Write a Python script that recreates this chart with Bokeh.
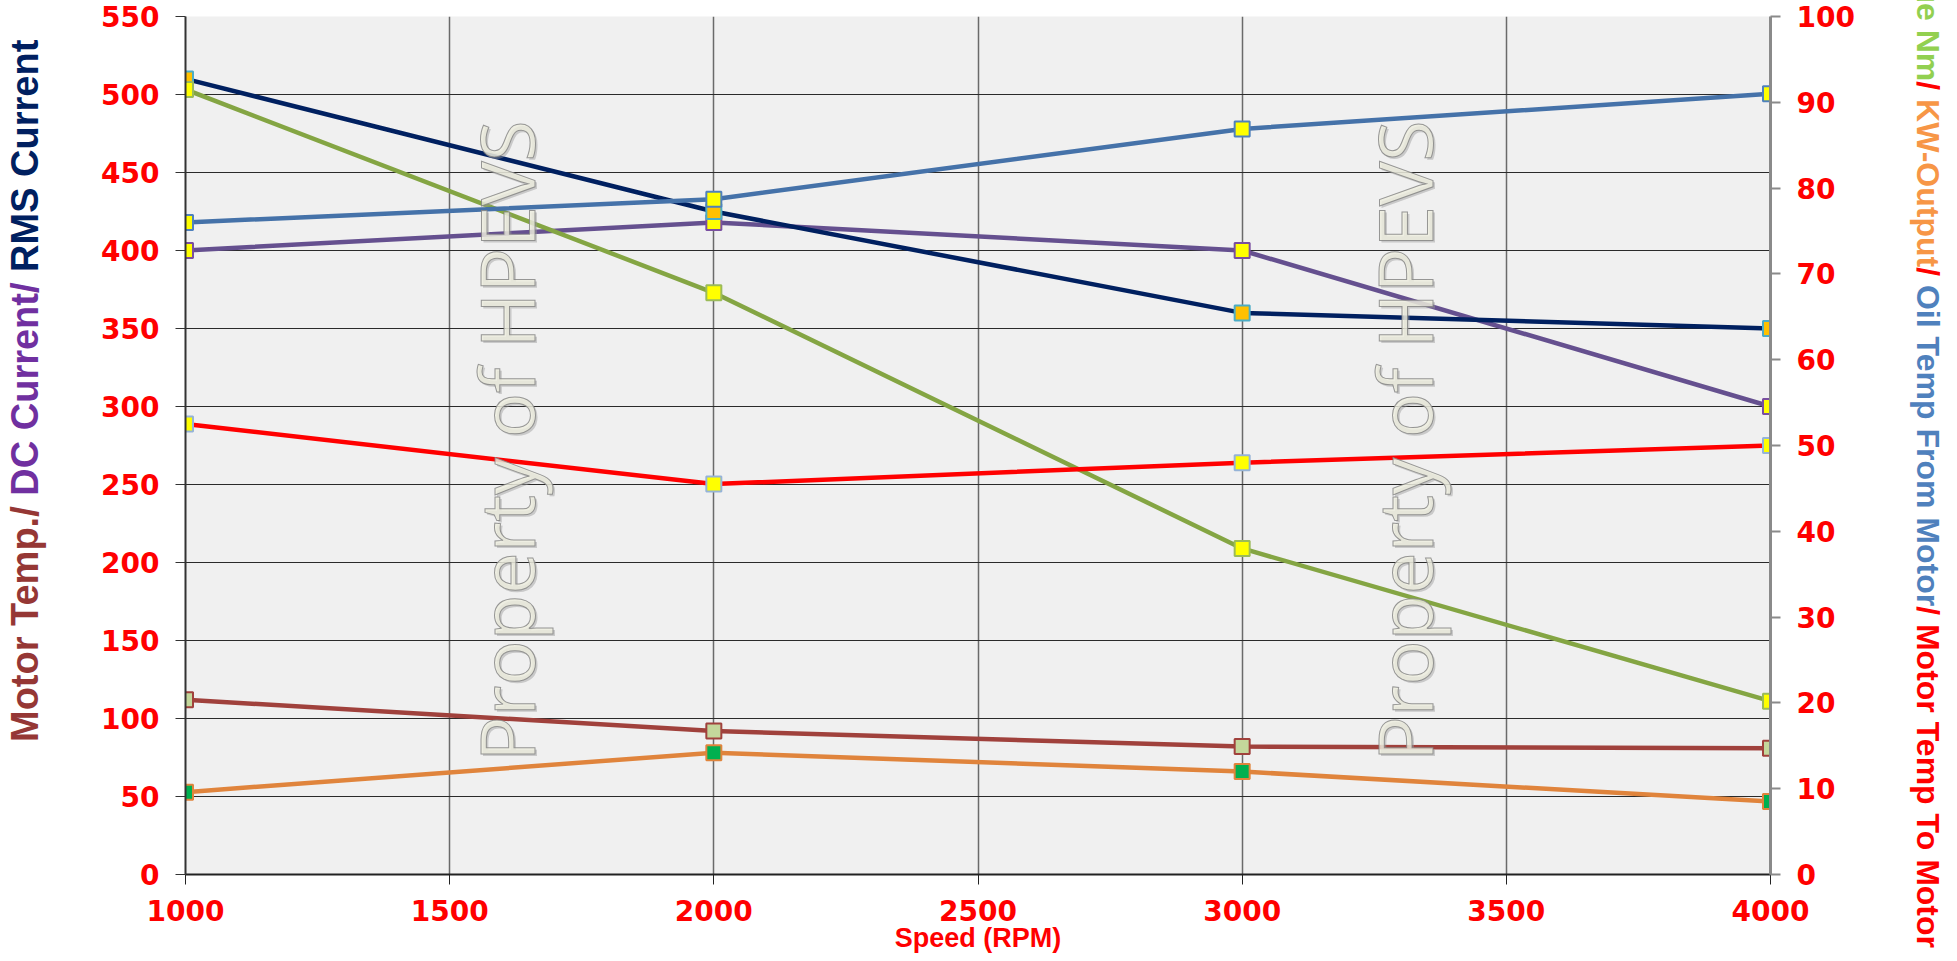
import math
from bokeh.plotting import figure
from bokeh.layouts import row
from bokeh.models import Range1d, LinearAxis, FixedTicker, ColumnDataSource, Div
from bokeh.core.properties import value
from bokeh.embed import file_html
from bokeh.resources import INLINE

# ---------------- data ----------------
speed = [1000, 2000, 3000, 4000]
# left axis series
motor_temp = [112, 92, 82, 81]
dc_current = [400, 418, 400, 300]
rms_current = [510, 425, 360, 350]
# right axis series
torque_nm = [91.5, 67.8, 38.0, 20.2]
kw_output = [9.6, 14.2, 12.0, 8.5]
oil_temp_from_motor = [76.0, 78.7, 86.9, 91.0]
motor_temp_to_motor = [52.5, 45.5, 48.0, 50.0]

x_ticks = [1000, 1500, 2000, 2500, 3000, 3500, 4000]
left_ticks = list(range(0, 551, 50))
right_ticks = list(range(0, 101, 10))

left_title = ["Motor Temp./ ", "DC Current/ ", "RMS Current"]
left_title_colors = ["#953735", "#7030a0", "#002060"]
right_title = ["Torque Nm", "/ ", "KW-Output", "/ ", "Oil Temp From Motor", "/ Motor Temp To Motor"]
right_title_colors = ["#92d050", "#ff0000", "#f79646", "#ff0000", "#4f81bd", "#ff0000"]
x_title = "Speed (RPM)"
watermark = "Property of HPEVS"
watermark_x = [1606, 3307]
watermark_y = [278, 278]

H = 956

# ---------------- main figure ----------------
p = figure(width=1820, height=H, x_range=Range1d(1000, 4000), y_range=Range1d(0, 550),
           output_backend="svg", toolbar_location=None, margin=0,
           min_border_left=125, min_border_right=110, min_border_top=16, min_border_bottom=82)
p.extra_y_ranges = {"right": Range1d(0, 100)}
p.background_fill_color = "#f0f0f0"
p.border_fill_color = "white"
p.outline_line_color = None

raxis = LinearAxis(y_range_name="right", ticker=FixedTicker(ticks=right_ticks))
p.add_layout(raxis, "right")
p.xaxis.ticker = FixedTicker(ticks=x_ticks)
p.yaxis[0].ticker = FixedTicker(ticks=left_ticks)

for ax in [p.xaxis[0], p.yaxis[0], raxis]:
    ax.major_label_text_font = "DejaVu Sans"
    ax.major_label_text_font_style = "bold"
    ax.major_label_text_font_size = "28px"
    ax.major_label_text_color = "#ff0000"
    ax.minor_tick_line_color = None
    ax.major_tick_out = 10
    ax.major_tick_in = 0
    ax.major_label_standoff = 16
    ax.axis_line_width = 2
xa = p.xaxis[0]
xa.major_label_standoff = 15
xa.axis_label = x_title
xa.axis_label_text_font = "Liberation Sans"
xa.axis_label_text_font_style = "bold"
xa.axis_label_text_font_size = "27px"
xa.axis_label_text_color = "#ff0000"
xa.axis_label_standoff = -1
xa.axis_line_color = "#222222"
xa.major_tick_line_color = "#222222"
p.yaxis[0].axis_line_color = "#333333"
p.yaxis[0].major_tick_line_color = "#333333"
raxis.axis_line_color = "#8a8a8a"
raxis.axis_line_width = 3
raxis.major_tick_line_color = "#8a8a8a"
raxis.major_tick_line_width = 2

p.xgrid.grid_line_color = "#6a6a6a"
p.xgrid.grid_line_width = 1.5
p.ygrid.grid_line_color = "#2a2a2a"
p.ygrid.grid_line_width = 1

# ---------------- series ----------------
def series(y, line_color, fill, border, rng="default"):
    src = ColumnDataSource(dict(x=speed, y=y))
    p.line("x", "y", source=src, line_color=line_color, line_width=4.5, y_range_name=rng)
    p.scatter("x", "y", source=src, marker="square", size=15, fill_color=fill,
              line_color=border, line_width=2, y_range_name=rng)

series(motor_temp, "#a0413c", "#c4d79b", "#a0413c")
series(dc_current, "#65508f", "#ffff00", "#7a4fa0")
series(rms_current, "#002060", "#ffc000", "#4bacc6")
series(torque_nm, "#84a543", "#ffff00", "#9bbb59", "right")
series(kw_output, "#e0843c", "#00b050", "#e0843c", "right")
series(oil_temp_from_motor, "#4572a9", "#ffff00", "#4f81bd", "right")
series(motor_temp_to_motor, "#ff0000", "#ffff00", "#95b3d7", "right")

# watermark (soft shadow + outlined cream text)
wm_src = ColumnDataSource(dict(x=watermark_x, y=watermark_y, t=[watermark] * len(watermark_x)))
p.text("x", "y", text="t", source=wm_src, angle=math.pi / 2, x_offset=2, y_offset=2,
       text_font=value("Open Sans"), text_font_size="75px", text_color="#9a9a9a",
       text_alpha=0.45, text_align="center", text_baseline="middle")
p.text("x", "y", text="t", source=wm_src, angle=math.pi / 2,
       text_font=value("Open Sans"), text_font_size="75px", text_color="#eeeedf",
       text_alpha=0.8, text_outline_color="#7f7f7f", text_align="center", text_baseline="middle")

# ---------------- side titles (multi-coloured, as HTML text) ----------------
def spans(parts, colors):
    return "".join(f'<span style="color:{c};white-space:pre">{t}</span>' for t, c in zip(parts, colors))

fs_l, fs_r = 38, 32
left_html = (
    f'<div style="position:relative;width:60px;height:{H}px;overflow:visible;">'
    f'<div style="position:absolute;left:{25 - fs_l // 2}px;top:742px;transform-origin:0 0;'
    f'transform:rotate(-90deg);white-space:nowrap;font-family:\'Liberation Sans\',sans-serif;'
    f'font-weight:bold;font-size:{fs_l}px;line-height:{fs_l}px;">'
    + spans(left_title, left_title_colors) + '</div></div>')
right_html = (
    f'<div style="position:relative;width:70px;height:{H}px;overflow:visible;">'
    f'<div style="position:absolute;left:{48 + fs_r // 2}px;top:948px;transform-origin:0 0;'
    f'transform:rotate(90deg) translateX(-100%);white-space:nowrap;'
    f'font-family:\'Liberation Sans\',sans-serif;font-weight:bold;font-size:{fs_r}px;line-height:{fs_r}px;">'
    + spans(right_title, right_title_colors) + '</div></div>')

ldiv = Div(text=left_html, width=60, height=H, margin=0)
rdiv = Div(text=right_html, width=70, height=H, margin=0)

layout = row(ldiv, p, rdiv, spacing=0, margin=0)
open("out.html", "w").write(file_html(layout, INLINE))
